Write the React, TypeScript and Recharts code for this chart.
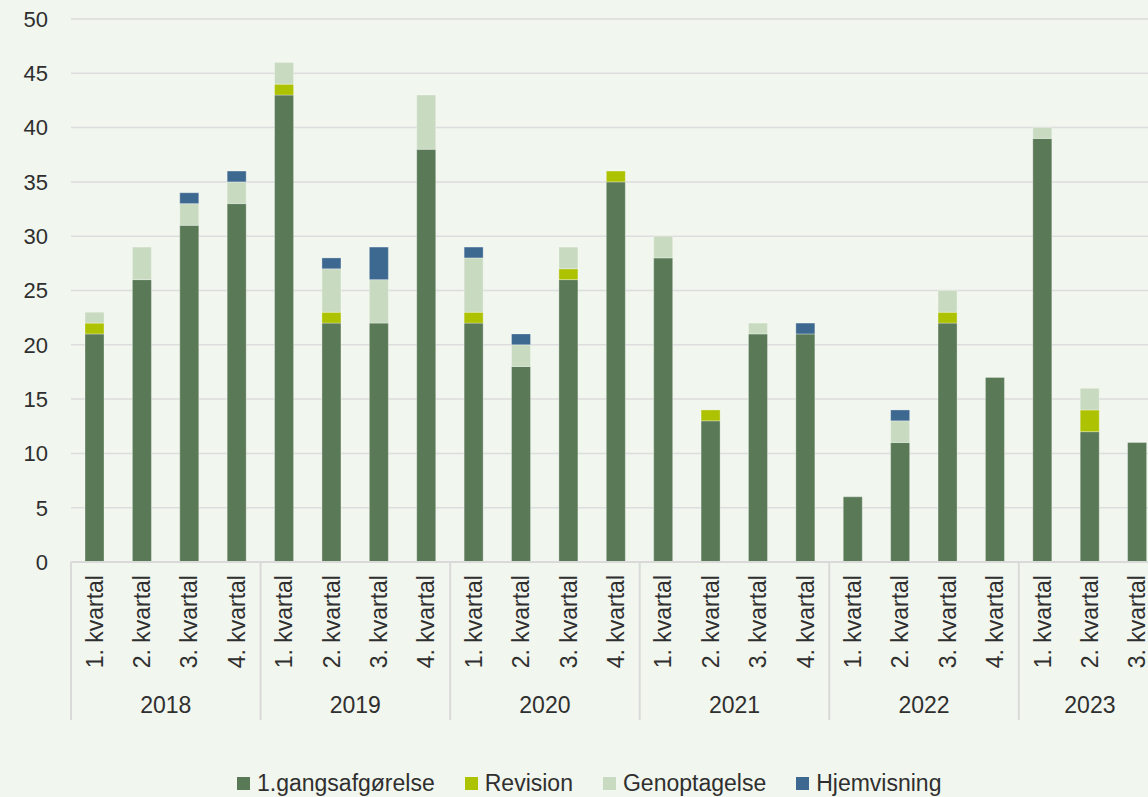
import { Bar, BarChart, CartesianGrid, Legend, XAxis, YAxis } from "recharts";

const years = [
  "2018", "2018", "2018", "2018",
  "2019", "2019", "2019", "2019",
  "2020", "2020", "2020", "2020",
  "2021", "2021", "2021", "2021",
  "2022", "2022", "2022", "2022",
  "2023", "2023", "2023",
];
const quarters = [
  "1. kvartal", "2. kvartal", "3. kvartal", "4. kvartal",
  "1. kvartal", "2. kvartal", "3. kvartal", "4. kvartal",
  "1. kvartal", "2. kvartal", "3. kvartal", "4. kvartal",
  "1. kvartal", "2. kvartal", "3. kvartal", "4. kvartal",
  "1. kvartal", "2. kvartal", "3. kvartal", "4. kvartal",
  "1. kvartal", "2. kvartal", "3. kvartal",
];
const forsteGang = [21, 26, 31, 33, 43, 22, 22, 38, 22, 18, 26, 35, 28, 13, 21, 21, 6, 11, 22, 17, 39, 12, 11];
const revision = [1, 0, 0, 0, 1, 1, 0, 0, 1, 0, 1, 1, 0, 1, 0, 0, 0, 0, 1, 0, 0, 2, 0];
const genoptagelse = [1, 3, 2, 2, 2, 4, 4, 5, 5, 2, 2, 0, 2, 0, 1, 0, 0, 2, 2, 0, 1, 2, 0];
const hjemvisning = [0, 0, 1, 1, 0, 1, 3, 0, 1, 1, 0, 0, 0, 0, 0, 1, 0, 1, 0, 0, 0, 0, 0];
const yTicks = [0, 5, 10, 15, 20, 25, 30, 35, 40, 45, 50];

const series = [
  { key: "forsteGang", name: "1.gangsafgørelse", color: "#5a7957" },
  { key: "revision", name: "Revision", color: "#adc200" },
  { key: "genoptagelse", name: "Genoptagelse", color: "#c8dac0" },
  { key: "hjemvisning", name: "Hjemvisning", color: "#3d6890" },
];

const data = quarters.map((q, i) => ({
  id: `${years[i]}-${i}`,
  year: years[i],
  quarter: q,
  forsteGang: forsteGang[i],
  revision: revision[i],
  genoptagelse: genoptagelse[i],
  hjemvisning: hjemvisning[i],
}));

const FONT = "'Liberation Sans', Arial, sans-serif";
const TEXT = "#2f2f2f";
const CHART_W = 1161;
const PLOT_LEFT = 71;
const BAND = (CHART_W - PLOT_LEFT) / data.length;

function QuarterTick(props: any) {
  const { x, y, index } = props;
  const row = data[index];
  if (!row) return null;
  const firstOfYear = index === 0 || data[index - 1].year !== row.year;
  let yearLabel = null;
  if (firstOfYear) {
    const count = data.filter((d) => d.year === row.year).length;
    const cx = x + ((count - 1) / 2) * BAND;
    yearLabel = (
      <text x={cx} y={y + 143} textAnchor="middle" dominantBaseline="central" fontSize={23} fill={TEXT} fontFamily={FONT}>
        {row.year}
      </text>
    );
  }
  return (
    <g>
      {firstOfYear && (
        <line x1={x - BAND / 2} x2={x - BAND / 2} y1={y} y2={y + 158} stroke="#dadada" strokeWidth={2} />
      )}
      <text
        x={x}
        y={y + 13}
        transform={`rotate(-90, ${x}, ${y + 13})`}
        textAnchor="end"
        dominantBaseline="central"
        fontSize={23}
        fill={TEXT}
        fontFamily={FONT}
      >
        {row.quarter}
      </text>
      {yearLabel}
    </g>
  );
}

function LegendContent() {
  return (
    <div style={{ display: "flex", height: 40, paddingTop: 12, boxSizing: "border-box", paddingLeft: 237, fontFamily: FONT, fontSize: 23, color: TEXT, lineHeight: "28px" }}>
      {series.map((s) => (
        <div key={s.key} style={{ display: "flex", alignItems: "center", marginRight: 30 }}>
          <span style={{ display: "inline-block", width: 13, height: 13, background: s.color, marginRight: 7 }} />
          <span>{s.name}</span>
        </div>
      ))}
    </div>
  );
}

export default function App() {
  return (
    <div style={{ position: "fixed", left: 0, top: 0, width: 1148, height: 797, overflow: "hidden", background: "#f1f6ee" }}>
      <BarChart
        width={CHART_W}
        height={797}
        data={data}
        margin={{ top: 19, right: 0, bottom: 0, left: 0 }}
        barSize={19}
      >
        <CartesianGrid vertical={false} stroke="#dddddd" strokeWidth={1.5} />
        <XAxis
          dataKey="id"
          interval={0}
          tickSize={0}
          tickMargin={0}
          height={195}
          axisLine={{ stroke: "#d9d9d9", strokeWidth: 2 }}
          tickLine={false}
          tick={<QuarterTick />}
        />
        <YAxis
          width={PLOT_LEFT}
          domain={[0, 50]}
          ticks={yTicks}
          axisLine={false}
          tickLine={false}
          tickSize={0}
          tickMargin={23}
          tick={{ fontSize: 22, fill: TEXT, fontFamily: FONT }}
        />
        <Legend verticalAlign="bottom" content={<LegendContent />} />
        {series.map((s) => (
          <Bar
            key={s.key}
            dataKey={s.key}
            name={s.name}
            stackId="a"
            fill={s.color}
            stroke="#ffffff"
            strokeOpacity={0.3}
            strokeWidth={1}
            isAnimationActive={false}
          />
        ))}
      </BarChart>
    </div>
  );
}
